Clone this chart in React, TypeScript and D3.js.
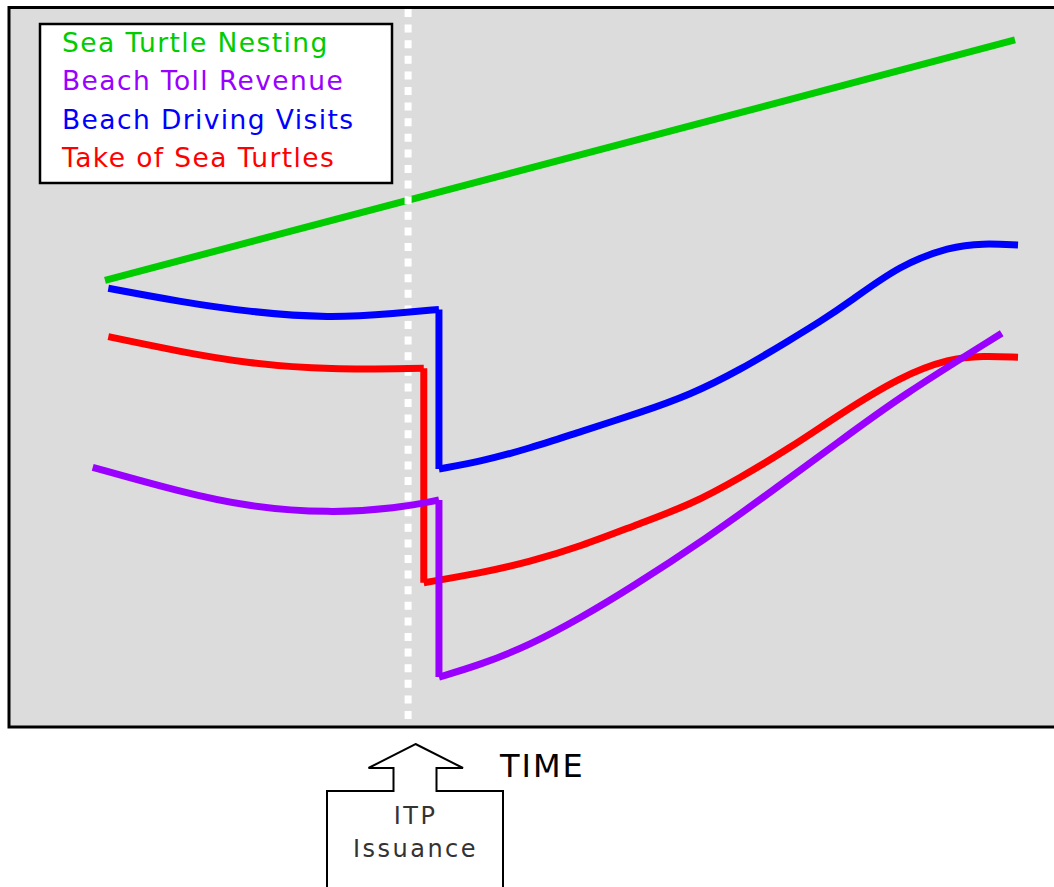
import React from "react";
import * as d3 from "d3";

const W = 1054;
const H = 887;

// Time (0-100) and relative level (0-100) readings
const nestingT = [9.27, 96.27];
const nestingV = [62.04, 95.42];

const drivingPreT = [9.59, 16.44, 22.82, 30.78, 37.16, 41.2];
const drivingPreV = [60.93, 59.07, 57.68, 56.76, 57.46, 57.99];
const drivingPostT = [41.2, 45.12, 49.9, 54.68, 60.42, 65.2, 69.98, 74.76, 77.63, 80.5, 85.28, 90.06, 93.21, 96.56];
const drivingPostV = [35.83, 36.85, 38.71, 41.01, 43.65, 46.11, 49.58, 53.75, 56.29, 59.07, 64.17, 66.71, 67.18, 66.94];

const takePreT = [9.59, 16.44, 22.82, 30.78, 39.75];
const takePreV = [54.21, 52.13, 50.51, 49.58, 49.82];
const takePostT = [39.75, 45.12, 49.9, 54.68, 60.42, 65.2, 69.98, 74.76, 79.54, 85.28, 90.06, 93.21, 96.56];
const takePostV = [20.04, 21.35, 22.96, 25.04, 28.29, 30.83, 34.6, 38.75, 43.47, 48.65, 51.21, 51.53, 51.35];

const tollPreT = [8.1, 16.44, 22.82, 30.78, 37.16, 41.2];
const tollPreV = [36.07, 32.68, 30.6, 29.68, 30.38, 31.53];
const tollPostT = [41.2, 45.12, 49.9, 54.68, 59.46, 66.8, 73.17, 79.54, 85.28, 95.0];
const tollPostV = [6.94, 8.61, 11.39, 15.1, 19.26, 26.21, 32.92, 39.72, 45.88, 54.68];

const itpTime = 38.25;

const legendLabels = [
  "Sea Turtle Nesting",
  "Beach Toll Revenue",
  "Beach Driving Visits",
  "Take of Sea Turtles",
];
const legendColors = ["#00cc00", "#9900ff", "#0000ff", "#ff0000"];

const x = d3.scaleLinear().domain([0, 100]).range([8, 1054]);
const y = d3.scaleLinear().domain([0, 100]).range([727, 7]);

const zip = (t: number[], v: number[]) => t.map((d, i) => [d, v[i]] as [number, number]);

const curve = d3
  .line<[number, number]>()
  .x((d) => x(d[0]))
  .y((d) => y(d[1]))
  .curve(d3.curveBasis);

const straight = d3
  .line<[number, number]>()
  .x((d) => x(d[0]))
  .y((d) => y(d[1]));

type Series = {
  color: string;
  preT: number[];
  preV: number[];
  postT: number[];
  postV: number[];
};

const stepSeries: Series[] = [
  { color: "#0000ff", preT: drivingPreT, preV: drivingPreV, postT: drivingPostT, postV: drivingPostV },
  { color: "#ff0000", preT: takePreT, preV: takePreV, postT: takePostT, postV: takePostV },
  { color: "#9900ff", preT: tollPreT, preV: tollPreV, postT: tollPostT, postV: tollPostV },
];

export default function App() {
  const sw = 7;
  const font = "'DejaVu Sans', Verdana, sans-serif";
  const ax = 415.5; // arrow centre
  const arrowPts = [
    [ax, 744],
    [ax + 47.5, 768],
    [ax + 21, 768],
    [ax + 21, 791],
    [ax + 87.5, 791],
    [ax + 87.5, 892],
    [ax - 88.5, 892],
    [ax - 88.5, 791],
    [ax - 22, 791],
    [ax - 22, 768],
    [ax - 47, 768],
  ];
  return (
    <svg
      width={W}
      height={H}
      style={{ position: "absolute", left: 0, top: 0, display: "block", background: "#fff" }}
    >
      <rect x={9} y={7.5} width={1060} height={719.5} fill="#dcdcdc" stroke="#000" strokeWidth={3} />

      <path
        d={straight(zip(nestingT, nestingV)) || ""}
        fill="none"
        stroke="#00cc00"
        strokeWidth={sw}
      />

      <line
        x1={x(itpTime)}
        x2={x(itpTime)}
        y1={9}
        y2={726}
        stroke="#ffffff"
        strokeWidth={7}
        strokeDasharray="8 7.6"
      />

      {stepSeries.map((s, i) => {
        const pre = zip(s.preT, s.preV);
        const post = zip(s.postT, s.postV);
        const jump: [number, number][] = [pre[pre.length - 1], post[0]];
        return (
          <g key={i}>
            <path d={curve(pre) || ""} fill="none" stroke={s.color} strokeWidth={sw} />
            <path d={straight(jump) || ""} fill="none" stroke={s.color} strokeWidth={sw} />
            <path d={curve(post) || ""} fill="none" stroke={s.color} strokeWidth={sw} />
          </g>
        );
      })}

      <rect x={40} y={24} width={352} height={159} fill="#fff" stroke="#000" strokeWidth={2.5} />
      {legendLabels.map((l, i) => (
        <text
          key={l}
          x={62}
          y={52 + i * 38.3}
          fill={legendColors[i]}
          fontFamily={font}
          fontSize={26.5}
          letterSpacing={1.4}
        >
          {l}
        </text>
      ))}

      <polygon
        points={arrowPts.map((p) => p.join(",")).join(" ")}
        fill="#fff"
        stroke="#000"
        strokeWidth={2}
      />
      <text x={ax} y={824} textAnchor="middle" fontFamily={font} fontSize={24} letterSpacing={2.5} fill="#333">
        ITP
      </text>
      <text x={ax} y={857} textAnchor="middle" fontFamily={font} fontSize={24} letterSpacing={2.5} fill="#333">
        Issuance
      </text>
      <text x={500} y={777} fontFamily={font} fontSize={32} letterSpacing={2} fill="#000">
        TIME
      </text>
    </svg>
  );
}
